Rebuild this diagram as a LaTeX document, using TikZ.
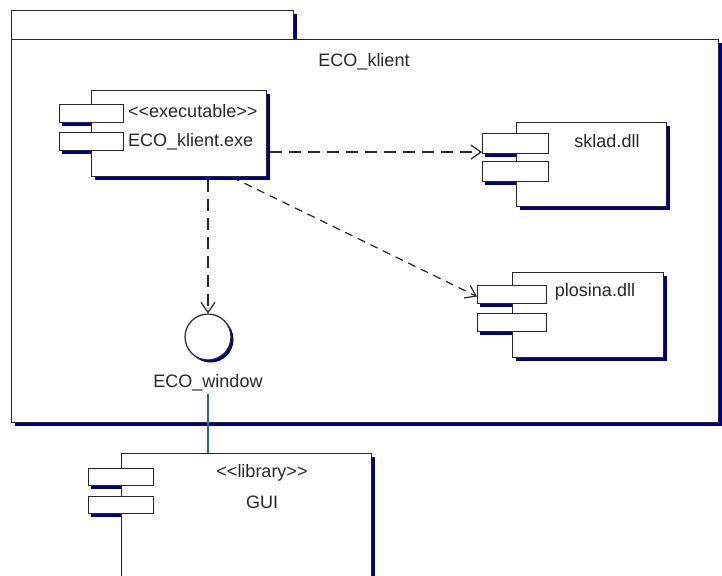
\documentclass[tikz,border=0pt]{standalone}
\usepackage{fontspec}
\newfontfamily\umlfont{Liberation Sans}
\usetikzlibrary{arrows.meta,calc,shadows}
\definecolor{shd}{RGB}{0,0,128}
\definecolor{tealline}{RGB}{40,110,110}
\begin{document}
\begin{tikzpicture}[x=1pt,y=-1pt,
  ln/.style={draw=black!85, line width=1.2pt},
  shdw/.style={general shadow={fill=shd, shadow xshift=3pt, shadow yshift=-3pt}},
  body/.style={ln, fill=white, rectangle, inner sep=0pt, anchor=north west, shdw},
  port/.style={ln, fill=white, rectangle, inner sep=0pt, anchor=north west},
  txt/.style={font=\umlfont\fontsize{18}{21}\selectfont, inner sep=2pt, text=black!85},
  dep/.style={draw=black!85, line width=1.2pt, dash pattern=on 12pt off 7pt,
              -{Straight Barb[length=10pt,width=14pt]}}
]
\clip (0,0) rectangle (722,575);
\fill[white] (0,0) rectangle (722,575);

% package
\node[body, minimum width=282, minimum height=29] (tab) at (11,10) {};
\node[body, minimum width=707, minimum height=383] (pkg) at (11,39) {};
\node[txt] (pkgl) at (364,62) {ECO\_klient};

% executable component
\node[body, minimum width=175, minimum height=86] (exe) at (91,90) {};
\node[port, minimum width=64, minimum height=18] (exp1) at (59,104) {};
\node[port, minimum width=64, minimum height=18] (exp2) at (59,132) {};
\fill[shd] ([xshift=3pt]exp1.south west) rectangle ([yshift=-3pt]exp1.south west -| exe.west);
\fill[shd] ([xshift=3pt]exp2.south west) rectangle ([yshift=-3pt]exp2.south west -| exe.west);
\node[txt, anchor=west] (exes) at (126,111) {<\kern0pt<executable>\kern0pt>};
\node[txt, anchor=west] (exen) at (126,142) {ECO\_klient.exe};

% sklad.dll
\node[body, minimum width=150, minimum height=84] (sk) at (516,122) {};
\node[port, minimum width=66, minimum height=20] (skp1) at (482,133) {};
\node[port, minimum width=66, minimum height=20] (skp2) at (482,161) {};
\fill[shd] ([xshift=3pt]skp1.south west) rectangle ([yshift=-3pt]skp1.south west -| sk.west);
\fill[shd] ([xshift=3pt]skp2.south west) rectangle ([yshift=-3pt]skp2.south west -| sk.west);
\node[txt] (skn) at (607,141) {sklad.dll};

% plosina.dll
\node[body, minimum width=151, minimum height=85] (pl) at (512,272) {};
\node[port, minimum width=69, minimum height=18] (plp1) at (477,285) {};
\node[port, minimum width=69, minimum height=18] (plp2) at (477,313) {};
\fill[shd] ([xshift=3pt]plp1.south west) rectangle ([yshift=-3pt]plp1.south west -| pl.west);
\fill[shd] ([xshift=3pt]plp2.south west) rectangle ([yshift=-3pt]plp2.south west -| pl.west);
\node[txt] (pln) at (595,292) {plosina.dll};

% interface
\node[circle, ln, fill=white, minimum size=46pt, inner sep=0pt,
      general shadow={fill=shd, shadow xshift=2.5pt, shadow yshift=-2.5pt}] (iface) at (208,337) {};
\node[txt] (ifl) at (208,383) {ECO\_window};

% GUI library
\node[body, minimum width=250, minimum height=150] (gui) at (121,453) {};
\node[port, minimum width=65, minimum height=17] (gp1) at (88,468) {};
\node[port, minimum width=65, minimum height=17] (gp2) at (88,496) {};
\fill[shd] ([xshift=3pt]gp1.south west) rectangle ([yshift=-3pt]gp1.south west -| gui.west);
\fill[shd] ([xshift=3pt]gp2.south west) rectangle ([yshift=-3pt]gp2.south west -| gui.west);
\node[txt] (guis) at (262,473) {<\kern0pt<library>\kern0pt>};
\node[txt] (guin) at (262,502) {GUI};

% connectors
\coordinate (skend) at ($(skp1.north west)!0.9!(skp1.south west)$);
\draw[dep] ([xshift=3pt]exe.east |- skend) -- (skend);
\draw[dep] ([yshift=-3pt]iface |- exe.south) -- (iface.north);
\draw[dep, dash pattern=on 8pt off 6pt]
  ($(exe.south west)!0.8!(exe.south east)$) -- ($(plp1.north west)!0.6!(plp1.south west)$);
\draw[tealline, line width=1.2pt] (ifl.south) -- (ifl.south |- gui.north);
\end{tikzpicture}
\end{document}
